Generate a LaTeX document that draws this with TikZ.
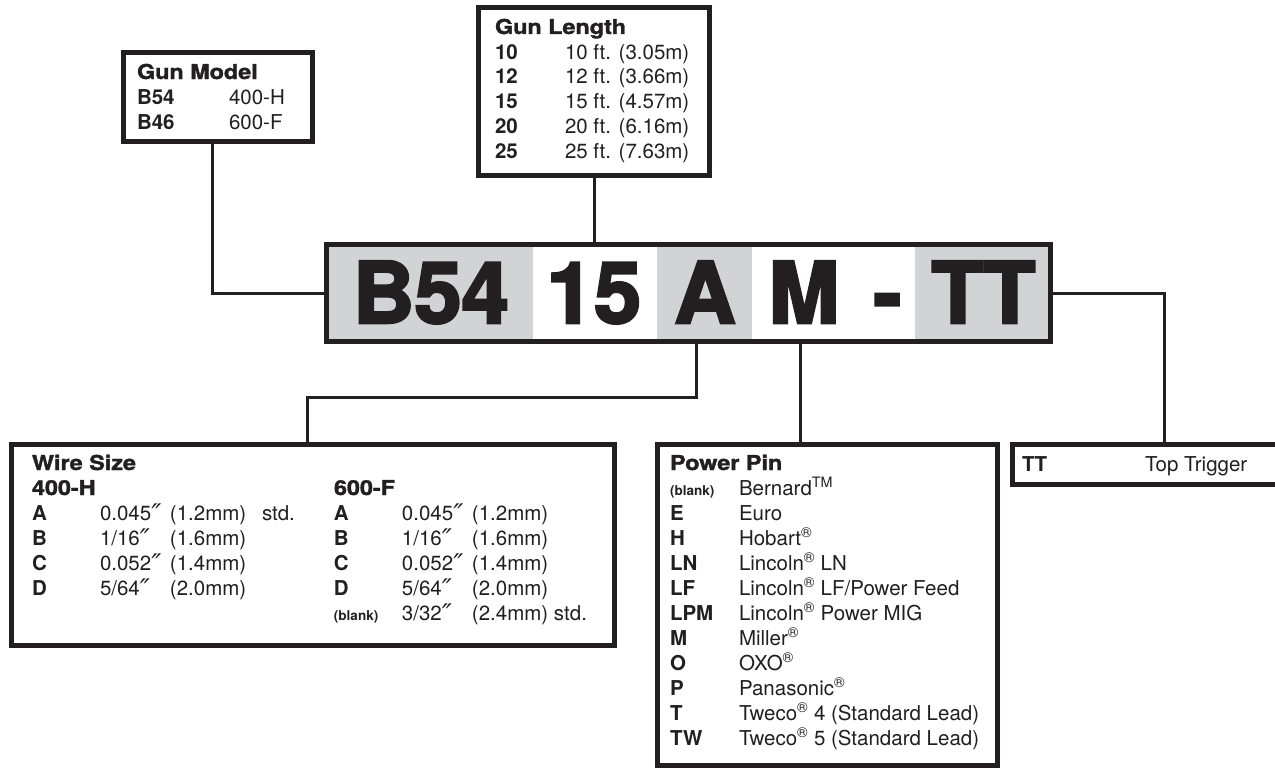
\documentclass[tikz,border=0pt]{standalone}
\usepackage{fontspec}
\usepackage{array}
\setmainfont{TeX Gyre Heros}
\newfontfamily\blackfont{TeX Gyre Heros}[FakeBold=1.6]
\newfontfamily\hugefont{TeX Gyre Heros}[FakeBold=3]
\newfontfamily\dvs{DejaVu Sans}
\definecolor{ink}{HTML}{231F20}
\definecolor{seggray}{HTML}{D1D3D4}
\newcommand\hdr[1]{{\blackfont\bfseries\fontsize{20.5}{25}\selectfont\scalebox{1.14}[1]{#1}}}
\newcommand\lbl[1]{{\bfseries #1}}
\newcommand\blnk{{\bfseries\fontsize{13.5}{25}\selectfont (blank)}}
\newcommand\dprm{\raisebox{-3.2pt}{\dvs\itshape\fontsize{27}{25}\selectfont ″}}
\newcommand\rgs{\textsuperscript{®}}
\newcommand\tmk{\textsuperscript{TM}}
\begin{document}
\begin{tikzpicture}[x=1pt,y=-1pt,
  box/.style={draw=ink, line width=5pt, fill=white, inner sep=0pt, outer sep=0pt, rectangle},
  seg/.style={inner sep=0pt, outer sep=0pt, minimum height=102pt, rectangle},
  conn/.style={draw=ink, line width=3pt},
  txt/.style={inner sep=0pt, outer sep=0pt, text=ink, font=\fontsize{20.5}{25}\selectfont, anchor=base west},
  big/.style={inner sep=0pt, outer sep=0pt, text=ink, font=\hugefont\bfseries\fontsize{85}{85}\selectfont, anchor=base}]
\useasboundingbox (0,0) rectangle (1275,771);
\clip (0,0) rectangle (1275,771);
% boxes
\node[box, minimum width=189pt, minimum height=89pt] (gmbox) at (218,97) {};
\node[box, minimum width=231pt, minimum height=168pt] (glbox) at (594,91.5) {};
\node[box, minimum width=603pt, minimum height=201pt] (wire) at (313,545) {};
\node[box, minimum width=340pt, minimum height=321pt] (pin) at (827.5,605) {};
\node[box, minimum width=275pt, minimum height=40pt] (tt) at (1150,464.5) {};
% code segments
\node[seg, fill=seggray, minimum width=209pt] (segB) at (428.5,293) {};
\node[seg, fill=white, minimum width=124pt] (segL) at (595,293) {};
\node[seg, fill=seggray, minimum width=95pt] (segA) at (704.5,293) {};
\node[seg, fill=white, minimum width=163pt] (segM) at (833.5,293) {};
\node[seg, fill=seggray, minimum width=138pt] (segT) at (984,293) {};
\node[box, fill=none, minimum width=724pt, minimum height=97pt] (code) at (688.5,293) {};
% big code letters
\node[big] (tB) at (431,323) {B54};
\node[big] (tL) at (594,323) {15};
\node[big] (tA) at (705,323) {A};
\node[big] (tM) at (804,323) {M};
\node[big] (tD) at (887.5,323) {-};
\node[big] (tT) at (983.5,323) {TT};
% connectors
\coordinate (gmTap) at (212,144);
\draw[conn] (gmTap) |- (code.west);
\draw[conn] (glbox.south) -- (glbox.south |- code.north);
\coordinate (aTap) at (696,397);
\coordinate (wTap) at (307,397);
\draw[conn] (aTap |- code.south) -- (aTap) -- (wTap) -- (wTap |- wire.north);
\coordinate (mTap) at (800,400);
\draw[conn] (mTap |- code.south) -- (mTap |- pin.north);
\coordinate (tTap) at (1164,400);
\draw[conn] (code.east) -- (code.east -| tTap) -- (tTap |- tt.north);
% texts
\node[txt] (gmtxt) at (137,79) {\begin{tabular}[t]{@{}w{l}{92pt}@{}l@{}}
\multicolumn{2}{@{}l@{}}{\hdr{Gun Model}}\\
\lbl{B54} & 400-H\\
\lbl{B46} & 600-F
\end{tabular}};
\node[txt] (gltxt) at (495,34) {\begin{tabular}[t]{@{}w{l}{70pt}@{}l@{}}
\multicolumn{2}{@{}l@{}}{\hdr{Gun Length}}\\
\lbl{10} & 10 ft. (3.05m)\\
\lbl{12} & 12 ft. (3.66m)\\
\lbl{15} & 15 ft. (4.57m)\\
\lbl{20} & 20 ft. (6.16m)\\
\lbl{25} & 25 ft. (7.63m)
\end{tabular}};
\node[txt] (wtxt) at (32,470) {\begin{tabular}[t]{@{}w{l}{68pt}@{}w{l}{70pt}@{}w{l}{92pt}@{}w{l}{72pt}@{}w{l}{68pt}@{}w{l}{70pt}@{}l@{}}
\multicolumn{7}{@{}l@{}}{\hdr{Wire Size}}\\
\multicolumn{4}{@{}l@{}}{\hdr{400-H}} & \multicolumn{3}{@{}l@{}}{\hdr{600-F}}\\
\lbl{A} & 0.045\dprm & (1.2mm) & std. & \lbl{A} & 0.045\dprm & (1.2mm)\\
\lbl{B} & 1/16\dprm & (1.6mm) & & \lbl{B} & 1/16\dprm & (1.6mm)\\
\lbl{C} & 0.052\dprm & (1.4mm) & & \lbl{C} & 0.052\dprm & (1.4mm)\\
\lbl{D} & 5/64\dprm & (2.0mm) & & \lbl{D} & 5/64\dprm & (2.0mm)\\
 & & & & \blnk & 3/32\dprm & (2.4mm) std.
\end{tabular}};
\node[txt] (ptxt) at (670,470) {\begin{tabular}[t]{@{}w{l}{69pt}@{}l@{}}
\multicolumn{2}{@{}l@{}}{\hdr{Power Pin}}\\
\blnk & Bernard\tmk\\
\lbl{E} & Euro\\
\lbl{H} & Hobart\rgs\\
\lbl{LN} & Lincoln\rgs{} LN\\
\lbl{LF} & Lincoln\rgs{} LF/Power Feed\\
\lbl{LPM} & Lincoln\rgs{} Power MIG\\
\lbl{M} & Miller\rgs\\
\lbl{O} & OXO\rgs\\
\lbl{P} & Panasonic\rgs\\
\lbl{T} & Tweco\rgs{} 4 (Standard Lead)\\
\lbl{TW} & Tweco\rgs{} 5 (Standard Lead)
\end{tabular}};
\node[txt] (tttxt) at (1022,471) {\begin{tabular}[t]{@{}w{l}{123pt}@{}l@{}}
\lbl{TT} & Top Trigger
\end{tabular}};
\end{tikzpicture}
\end{document}
